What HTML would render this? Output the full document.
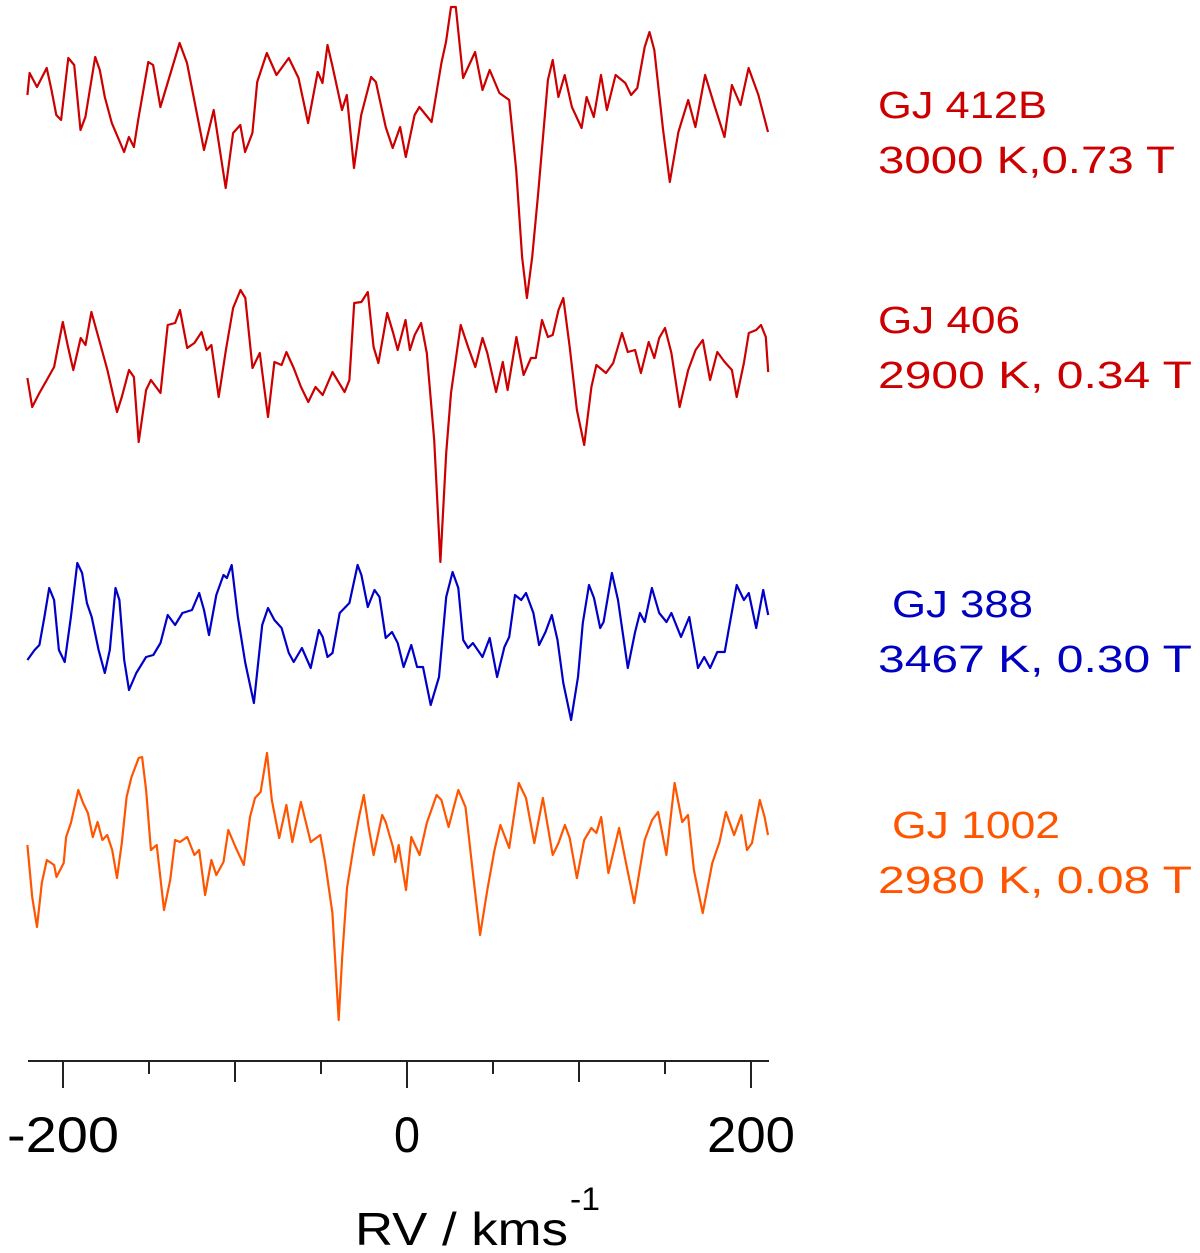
<!DOCTYPE html>
<html><head><meta charset="utf-8"><style>
html,body{margin:0;padding:0;background:#fff}
svg{display:block}
text{font-family:"Liberation Sans",sans-serif}
</style></head><body>
<svg id="chart" width="1200" height="1253" viewBox="0 0 1200 1253" xmlns="http://www.w3.org/2000/svg">
<g id="series"></g>
<g id="axis">
<line x1="28" y1="1061" x2="769" y2="1061" stroke="#222" stroke-width="2"/>
</g>
<text x="355" y="1245" font-size="46" fill="#000" textLength="213" lengthAdjust="spacingAndGlyphs">RV / kms</text>
<text x="570" y="1210" font-size="32" fill="#000" textLength="30" lengthAdjust="spacingAndGlyphs">-1</text>
<g font-size="38">
<text x="878" y="118" fill="#cc0000" textLength="169" lengthAdjust="spacingAndGlyphs">GJ 412B</text>
<text x="878" y="173" fill="#cc0000" textLength="297" lengthAdjust="spacingAndGlyphs">3000 K,0.73 T</text>
<text x="878" y="333" fill="#cc0000" textLength="142" lengthAdjust="spacingAndGlyphs">GJ 406</text>
<text x="878" y="388" fill="#cc0000" textLength="314" lengthAdjust="spacingAndGlyphs">2900 K, 0.34 T</text>
<text x="892" y="617" fill="#0000c0" textLength="141" lengthAdjust="spacingAndGlyphs">GJ 388</text>
<text x="878" y="672" fill="#0000c0" textLength="314" lengthAdjust="spacingAndGlyphs">3467 K, 0.30 T</text>
<text x="892" y="838" fill="#ff5500" textLength="168" lengthAdjust="spacingAndGlyphs">GJ 1002</text>
<text x="878" y="893" fill="#ff5500" textLength="314" lengthAdjust="spacingAndGlyphs">2980 K, 0.08 T</text>
</g>
</svg>
<script>
const rv1=[-220.7,-219.4,-215.1,-209.5,-206.7,-203.9,-201.1,-196.9,-193.5,-189.8,-187.0,-181.3,-178.6,-175.7,-171.6,-164.5,-161.7,-158.8,-156.1,-150.4,-147.6,-143.4,-139.2,-132.2,-127.9,-118.0,-112.4,-105.4,-101.1,-96.9,-94.1,-89.9,-87.1,-81.5,-75.9,-68.7,-63.1,-57.5,-51.9,-49.1,-46.2,-43.5,-37.8,-35.0,-30.8,-26.6,-20.9,-18.1,-12.4,-8.3,-4.0,-0.7,4.4,7.2,14.3,20.0,22.7,25.6,28.4,32.6,39.6,43.9,48.1,53.7,59.4,63.5,66.9,69.7,72.8,76.3,81.9,84.7,88.0,91.7,95.9,101.5,104.4,108.6,112.8,116.2,121.3,126.9,130.3,133.9,138.2,141.0,143.8,148.9,152.8,157.8,163.5,167.7,173.3,179.0,184.6,188.9,193.9,198.6,204.3,209.9];
const flux1=[5,27,13,32,10,-15,-20,42,35,-30,-17,43,30,3,-23,-52,-37,-47,-18,38,35,-7,17,57,37,-50,-10,-88,-33,-25,-52,-33,18,47,25,42,22,-23,28,17,55,35,-10,5,-68,-15,23,18,-27,-48,-27,-57,-15,-7,-22,37,58,93,93,22,48,10,30,7,0,-70,-157,-198,-157,-93,20,40,3,25,-7,-28,3,-17,25,-10,25,17,5,12,53,68,50,-30,-82,-32,0,-27,25,-7,-37,15,-5,32,5,-32];
const rv2=[-220.7,-217.9,-213.7,-209.4,-205.2,-200.1,-197.3,-194.0,-189.7,-186.9,-183.5,-178.5,-174.2,-168.6,-165.8,-161.6,-158.8,-156.0,-151.7,-148.9,-143.3,-139.1,-134.8,-132.0,-127.8,-123.6,-119.4,-116.5,-113.7,-109.5,-105.3,-101.1,-96.8,-94.0,-89.8,-85.6,-80.8,-77.1,-72.9,-70.1,-65.9,-61.6,-57.4,-53.2,-49.0,-43.3,-40.5,-36.3,-33.5,-30.7,-26.5,-22.8,-19.4,-16.6,-11.5,-8.2,-5.4,-0.9,1.7,4.5,8.2,11.5,15.8,19.4,22.8,25.6,31.2,35.5,39.7,43.9,46.7,51.8,55.7,58.5,63.6,67.8,72.1,74.9,78.5,81.9,84.7,88.1,90.9,94.6,98.8,103.0,107.2,110.1,115.7,119.9,125.0,128.4,132.6,136.0,140.5,143.8,146.6,150.0,153.7,158.5,163.5,167.8,172.0,176.2,180.4,184.7,188.9,191.7,195.9,198.7,203.0,205.8,208.6,210.0];
const flux2=[-18,-47,-33,-20,-7,38,15,-10,22,15,48,17,-10,-52,-37,-10,-17,-82,-30,-20,-33,35,37,50,12,17,28,10,15,-37,10,52,70,62,-8,7,-57,-2,-5,8,-8,-27,-42,-27,-35,-12,-20,-32,-20,57,58,68,13,-3,47,28,10,40,10,25,37,7,-80,-202,-93,-33,35,13,-7,22,7,-32,-2,-30,23,-15,2,2,40,23,25,50,62,13,-50,-85,-27,-5,-13,-3,27,8,10,-13,18,2,22,32,7,-47,-10,10,20,-20,8,-2,-10,-37,-3,27,30,35,23,-12];
const rv3=[-220.7,-216.5,-213.7,-210.8,-208.0,-205.2,-202.4,-199.0,-195.4,-191.7,-188.9,-186.1,-183.3,-179.3,-175.7,-172.8,-169.5,-167.2,-164.4,-161.6,-157.4,-151.7,-147.5,-143.3,-139.1,-134.8,-130.6,-125.0,-120.8,-118.0,-115.1,-110.9,-106.7,-104.7,-101.9,-98.3,-94.0,-89.0,-84.2,-80.8,-77.1,-72.9,-68.7,-65.9,-61.1,-56.0,-51.2,-49.0,-46.2,-43.3,-39.1,-33.5,-28.7,-26.5,-22.8,-18.9,-16.0,-12.4,-8.7,-5.4,-2.0,2.5,5.9,9.3,13.8,18.6,22.8,26.5,29.8,32.7,35.5,38.3,43.9,48.1,52.4,56.6,59.4,62.8,66.4,69.2,73.5,76.8,80.5,84.2,87.5,90.9,95.4,99.4,102.2,105.8,108.7,112.3,114.3,119.1,122.7,128.4,132.6,135.4,138.2,142.4,146.6,150.9,153.7,159.3,164.1,169.2,172.8,176.2,180.4,184.7,191.7,195.9,198.7,203.0,207.1,210.0];
const flux3=[-40,-30,-25,3,32,20,-30,-42,3,57,47,17,3,-30,-53,-30,32,20,-40,-70,-53,-37,-35,-23,5,-5,7,10,27,10,-15,25,45,42,55,3,-43,-83,-5,12,0,-8,-33,-42,-28,-48,-10,-17,-37,-33,7,17,55,45,13,30,23,-18,-12,-23,-47,-25,-47,-47,-85,-57,23,48,32,-20,-28,-23,-37,-18,-57,-27,-17,25,20,27,7,-25,-12,5,-20,-63,-100,-57,-3,35,22,-8,-2,47,20,-48,-12,7,-2,32,7,-2,7,-17,3,-48,-37,-48,-32,-32,35,20,27,-8,30,5];
const rv4=[-220.7,-217.9,-215.1,-212.3,-209.4,-205.2,-203.8,-199.6,-198.2,-195.4,-191.1,-188.3,-185.5,-182.7,-179.9,-177.1,-174.3,-171.4,-168.6,-165.8,-163.0,-160.2,-156.0,-154.0,-151.7,-148.9,-145.5,-141.3,-137.7,-134.8,-132.0,-127.8,-123.6,-120.8,-117.4,-113.7,-110.9,-106.7,-103.9,-99.7,-94.9,-91.3,-88.4,-85.1,-81.4,-78.6,-74.3,-70.1,-66.7,-61.7,-56.0,-50.4,-47.6,-43.4,-39.7,-37.7,-34.9,-30.7,-27.9,-25.1,-22.3,-19.4,-14.4,-12.4,-8.2,-6.8,-4.8,-0.6,2.5,7.3,11.5,17.2,20.0,24.2,29.8,34.0,38.3,42.5,46.7,50.9,54.3,59.4,65.0,69.2,74.0,79.0,84.7,88.1,91.8,94.6,98.8,103.0,107.2,110.1,112.9,117.1,123.3,127.0,132.1,138.2,142.5,146.0,150.8,155.6,160.0,163.4,166.8,171.9,177.5,181.7,185.4,190.2,194.4,197.7,200.6,205.1,207.9,209.9];
const flux4=[-5,-57,-87,-43,-20,-25,-37,-23,3,17,50,37,27,3,18,0,5,-10,-38,-3,43,63,82,83,50,-10,-5,-70,-40,0,-2,3,-15,-10,-55,-20,-35,-22,10,-7,-25,23,42,48,87,40,2,35,-2,38,-2,5,-22,-73,-180,-117,-48,-3,23,45,13,-15,25,18,-7,-22,-5,-50,3,-15,17,45,40,13,50,33,-33,-95,-50,-10,15,-8,57,42,-3,42,-15,-3,15,2,-38,0,12,7,23,-33,12,-20,-63,0,20,28,-15,57,18,25,-30,-73,-23,-2,28,5,25,-10,-3,40,23,5];
const xTicks=[-200,-150,-100,-50,0,50,100,150,200];
const xTickLabels=["-200","0","200"];
const xLabelValues=[-200,0,200];

const NS='http://www.w3.org/2000/svg';
function xScale(v){return 407+v*1.72;}
function yScale(f,base){return base-f;}
const svg=document.getElementById('chart');
const sg=document.getElementById('series');
const ag=document.getElementById('axis');
function drawSeries(rv,flux,base,color,name){
  let d='';
  for(let i=0;i<rv.length;i++){d+=(i?'L':'M')+xScale(rv[i]).toFixed(1)+' '+yScale(flux[i],base).toFixed(1);}
  const p=document.createElementNS(NS,'path');
  p.setAttribute('d',d);p.setAttribute('fill','none');p.setAttribute('stroke',color);
  p.setAttribute('stroke-width','2.2');p.setAttribute('stroke-linejoin','round');
  
  
  sg.appendChild(p);
}
drawSeries(rv1,flux1,100,'#cc0000','series-gj412b');
drawSeries(rv2,flux2,360,'#cc0000','series-gj406');
drawSeries(rv3,flux3,620,'#0000c8','series-gj388');
drawSeries(rv4,flux4,840,'#ff5500','series-gj1002');
xTicks.forEach(function(t){
  const l=document.createElementNS(NS,'line');
  const x=xScale(t);
  const len=(t%100===0)?(t%200===0?27:21):13;
  l.setAttribute('x1',x);l.setAttribute('x2',x);l.setAttribute('y1',1061);l.setAttribute('y2',1061+len);
  l.setAttribute('stroke','#222');l.setAttribute('stroke-width','2');
  
  
  ag.appendChild(l);
});
xLabelValues.forEach(function(v,i){
  const t=document.createElementNS(NS,'text');
  t.setAttribute('x',xScale(v));t.setAttribute('y',1152);
  t.setAttribute('text-anchor','middle');t.setAttribute('font-size','50');
  t.setAttribute('font-family','Liberation Sans, sans-serif');
  const w=xTickLabels[i].length===1?26:(xTickLabels[i].length===3?88:112);
  t.setAttribute('textLength',w);t.setAttribute('lengthAdjust','spacingAndGlyphs');
  t.textContent=xTickLabels[i];
  
  
  ag.appendChild(t);
});
</script>
</body></html>
